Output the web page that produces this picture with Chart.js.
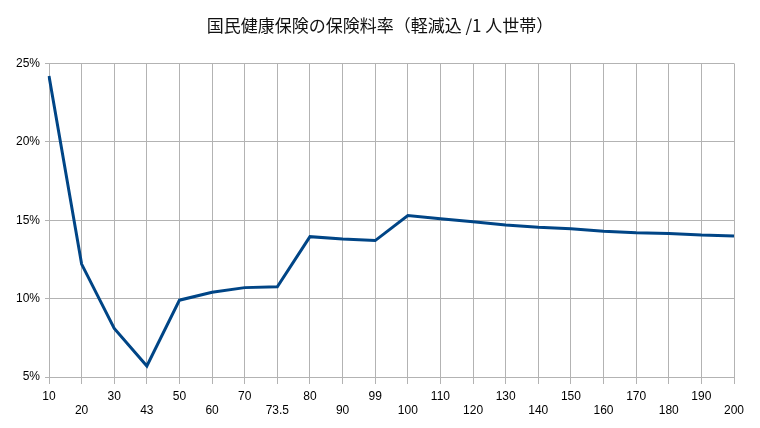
<!DOCTYPE html>
<html><head><meta charset="utf-8">
<script src="https://cdn.jsdelivr.net/npm/chart.js@4/dist/chart.umd.min.js"></script>
<style>html,body{margin:0;padding:0;background:#fff}#w{width:760px;height:428px}</style>
</head><body><div id="w"><canvas id="c"></canvas></div>
<script>
const titleText = '国民健康保険の保険料率（軽減込 /1 人世帯）';
const categories = ['10','20','30','43','50','60','70','73.5','80','90','99','100','110','120','130','140','150','160','170','180','190','200'];
const rates = [24.2,12.2,8.1,5.7,9.9,10.4,10.7,10.75,13.95,13.8,13.7,15.3,15.1,14.9,14.7,14.55,14.45,14.3,14.2,14.15,14.05,14.0];
const yTicks = [5,10,15,20,25];
const grid = '#b3b3b3';
new Chart(document.getElementById('c'), {
  type: 'line',
  data: { labels: categories, datasets: [{ data: rates, borderColor: '#004586', borderWidth: 3, pointRadius: 0, tension: 0, fill: false, borderJoinStyle: 'miter' }] },
  options: {
    responsive: true, maintainAspectRatio: false, animation: false,
    layout: { padding: { left: 0, right: 0, top: 0, bottom: 0 } },
    plugins: {
      legend: { display: false }, tooltip: { enabled: false },
      title: { display: true, text: titleText, color: '#111', font: { family: '"Noto Sans CJK JP", "Noto Sans", sans-serif', size: 17, weight: 'normal' }, padding: { top: 15, bottom: 28 } }
    },
    scales: {
      x: {
        afterFit: s => { s.height = 51; },
        grid: { color: grid, lineWidth: 1, tickLength: 7, offset: false },
        border: { color: grid },
        ticks: { autoSkip: false, maxRotation: 0, minRotation: 0, padding: 5, color: '#000',
          font: { family: '"Liberation Sans", sans-serif', size: 12 },
          callback: function(v, i) { const l = categories[i]; return i % 2 ? ['', l] : l; } }
      },
      y: {
        min: 5, max: 25,
        afterFit: s => { s.width = 49; },
        afterBuildTicks: s => { s.ticks = yTicks.map(v => ({ value: v })); },
        grid: { color: grid, lineWidth: 1, tickLength: 4 },
        border: { color: grid },
        ticks: { padding: 5, color: '#000', font: { family: '"Liberation Sans", sans-serif', size: 12 }, callback: v => v + '%' }
      },
      yR: {
        position: 'right', min: 0, max: 1,
        afterFit: s => { s.width = 26; },
        grid: { display: false, drawTicks: false }, border: { display: false },
        ticks: { display: false }
      }
    }
  }
});
</script></body></html>
